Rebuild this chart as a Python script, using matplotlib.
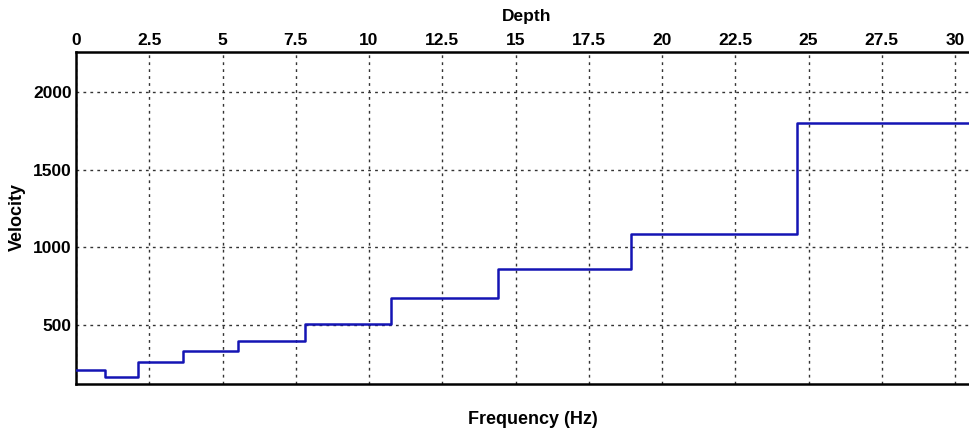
import matplotlib
matplotlib.use('Agg')
import matplotlib.pyplot as plt

# layer boundaries (depth) and velocities
depth_edges = [0, 1.0, 2.13, 3.64, 5.52, 7.83, 10.75, 14.4, 18.94, 24.6, 31]
velocity = [210, 163, 262, 333, 395, 505, 674, 860, 1084, 1803, 1803]
x_ticks = [0, 2.5, 5, 7.5, 10, 12.5, 15, 17.5, 20, 22.5, 25, 27.5, 30]
x_tick_labels = ['0', '2.5', '5', '7.5', '10', '12.5', '15', '17.5', '20', '22.5', '25', '27.5', '30']
y_ticks = [500, 1000, 1500, 2000]

plt.rcParams['font.family'] = ['Liberation Sans', 'DejaVu Sans']

fig = plt.figure(figsize=(9.69, 4.29), dpi=100)
W, H = 969, 429
x_left = 76
x_per_unit = (955 - 76) / 30.0
x_max = (W - x_left) / x_per_unit
ax = fig.add_axes([x_left / W, 1 - 384 / H, (W - x_left) / W, (384 - 52) / H])

ax.step(depth_edges, velocity, where='post', color='#1414b4', linewidth=1.8, zorder=3)

ax.set_xlim(0, x_max)
ax.set_ylim(120, 2258)
ax.xaxis.tick_top()
ax.set_xticks(x_ticks)
ax.set_xticklabels(x_tick_labels)
ax.set_yticks(y_ticks)
ax.tick_params(axis='both', length=0, labelsize=12.5, pad=3)
for lbl in ax.get_xticklabels() + ax.get_yticklabels():
    lbl.set_fontweight('bold')

ax.grid(True, color='#333333', linestyle=(0, (2, 3)), linewidth=1.0)
for side in ['left', 'top', 'bottom']:
    ax.spines[side].set_linewidth(1.8)
    ax.spines[side].set_color('black')
ax.spines['right'].set_visible(False)

fig.text(527 / W, 1 - 16 / H, 'Depth', ha='center', va='center', fontsize=12.5, fontweight='bold')
fig.text(533 / W, 1 - 419 / H, 'Frequency (Hz)', ha='center', va='center', fontsize=13, fontweight='bold')
fig.text(17 / W, 1 - 217 / H, 'Velocity', ha='center', va='center', rotation=90, fontsize=13, fontweight='bold')

fig.savefig('out.png', dpi=100)
